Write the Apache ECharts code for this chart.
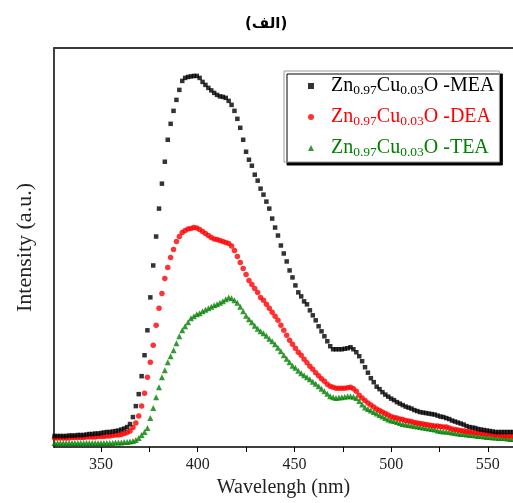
<!DOCTYPE html>
<html>
<head>
<meta charset="utf-8">
<script src="https://cdn.jsdelivr.net/npm/echarts@6/dist/echarts.min.js"></script>
<style>
html,body{margin:0;padding:0;background:#fff;}
#chart{width:513px;height:503px;}
</style>
</head>
<body>
<div id="chart"></div>
<script>
// Wavelength (nm)
const wavelengths = [326,327.5,329,330.5,332,333.5,335,336.5,338,339.5,341,342.5,344,345.5,347,348.5,350,351.5,353,354.5,356,357.5,359,360.5,362,363.5,365,366.5,368,369.5,371,372.5,374,375.5,377,378.5,380,381.5,383,384.5,386,387.5,389,390.5,392,393.5,395,396.5,398,399.5,401,402.5,404,405.5,407,408.5,410,411.5,413,414.5,416,417.5,419,420.5,422,423.5,425,426.5,428,429.5,431,432.5,434,435.5,437,438.5,440,441.5,443,444.5,446,447.5,449,450.5,452,453.5,455,456.5,458,459.5,461,462.5,464,465.5,467,468.5,470,471.5,473,474.5,476,477.5,479,480.5,482,483.5,485,486.5,488,489.5,491,492.5,494,495.5,497,498.5,500,501.5,503,504.5,506,507.5,509,510.5,512,513.5,515,516.5,518,519.5,521,522.5,524,525.5,527,528.5,530,531.5,533,534.5,536,537.5,539,540.5,542,543.5,545,546.5,548,549.5,551,552.5,554,555.5,557,558.5,560,561.5,563];

// Intensity (a.u.) – Zn0.97Cu0.03O -MEA
const meaValues = [11,11,11,11,11,11.5,11.5,11.5,12,12,12,12.5,13,13,13.5,13.5,14,14.5,15,15,15.5,16,16.5,17.5,18.5,20,23,30,41,53,71,92,117,150,182,211,239,264,286,308,324,337,348,358,367,370,371,371.5,372,372,370,366,363,360,357.5,355,353,351.5,351,350,347,343,337,329,320,308,296,288,282,273,267,259,253,246,239,229,220,212,202,194,186,177,170,162,155,151,146,143,137,132,127,121,116,111,106,101,98,98,98,98,98.5,99,100,98,95,91,86,80,74.5,69,65,60.5,58,55,52.5,50.5,48.5,47,45,43.5,42,40.5,39.5,38.5,37,36,35,34.5,34,33.5,33,32.5,31.5,30.5,30,29,28,26.5,25.5,24.5,23.5,22.5,21,20,19.5,19,18,17.5,17,16.5,16,15.5,15,15,15,15,15,15,15];

// Intensity (a.u.) – Zn0.97Cu0.03O -DEA
const deaValues = [9,9,9,9,9,9,9.5,9.5,9.5,9.5,9.5,10,10,10,10,10.5,10.5,10.5,11,11,11.5,12,12,12.5,13.5,14.5,16,19.5,24,31,41,54,70,85,102,122,139,154,169,180,190,198,206,211,215,217,218.5,219,220,219.5,218,216,214,212,210,208.5,208,207,206,205,204,201.5,197,191,185,179,173,167,163,159,155,150,147,143,139,135,131,127,122,117,112,107,103,99,95,92,88,84.5,81,78,74.5,71.5,68.5,66,63,61,60,59,59,59,59,59.5,60,58.5,56,52,49,46.5,44,42,40,38,36.5,35,33.5,32,30.5,29.5,29,28,27.5,26.5,26,25.5,24.5,24,23.5,23,22.5,22,21.5,21,21,20.5,20,20,19,18,17.5,17,16.5,16,15.5,15,15,14.5,14,14,13.5,13,13,12.5,12,12,11.5,11.5,11,11,11];

// Intensity (a.u.) – Zn0.97Cu0.03O -TEA
const teaValues = [4,4,4,4,4,4,4,4,4,4,4,4,4,4,4,4,4,4,4,4,4,4.5,4.5,4.5,5,5,5.5,6,7,9,12,15,19,29,39,50,60,70,77,85,91,97,104,111,117,121,125,129,131,133,134,136,137.5,139,140.5,142,143,144.5,146,148,150,149,147,144.5,140.5,136,131.5,128,125,121.5,118.5,116,114,111.5,108.5,106,103,99.5,96,92,88.5,85,81.5,79.5,76.5,74,72,70,68,65.5,63.5,61,58.5,56,53.5,51,50,49,49.5,50,50.5,51,51,50.5,49,46,42.5,39.5,38,36.5,35,33.5,32,30.5,29,27.5,26.5,26,25,24,23,22.5,22,21.5,21,20.5,20,19.5,19,18.5,18,17.5,16.5,16,15.5,15.5,15,14.5,14,13.5,13,13,12.5,12,12,11.5,11,11,10.5,10,10,9.5,9.5,9,9,9,8.5,8,8];

const seriesNames = ['MEA', 'DEA', 'TEA'];
const tickValues = [350, 375, 400, 425, 450, 475, 500, 525, 550];
const labelValues = [350, 400, 450, 500, 550];

const pairs = vals => wavelengths.map((w, i) => [w, vals[i]]);

const chart = echarts.init(document.getElementById('chart'), null, {renderer: 'canvas'});
const serif = 'Liberation Serif, Times New Roman, serif';
const styleKey = {MEA: 'k', DEA: 'r', TEA: 'g'};
const rich = {sp: {width: 12}};
[['k', '#000000'], ['r', '#ff0000'], ['g', '#008000']].forEach(([k, c]) => {
  rich[k + 'm'] = {fontFamily: serif, fontSize: 20, color: c, lineHeight: 22, verticalAlign: 'middle'};
  rich[k + 's'] = {fontFamily: serif, fontSize: 13.5, color: c, lineHeight: 12, verticalAlign: 'bottom'};
});

chart.setOption({
  animation: false,
  backgroundColor: '#ffffff',
  title: {
    text: '(الف)',
    left: 240,
    top: 12,
    textStyle: {fontFamily: 'DejaVu Sans', fontWeight: 'bold', fontSize: 15, color: '#000'}
  },
  grid: {left: 54, top: 48, right: 0, bottom: 55, containLabel: false},
  legend: {
    orient: 'vertical',
    left: 284,
    top: 71,
    padding: [5, 5, 3, 24],
    itemGap: 10,
    itemWidth: 6,
    itemHeight: 6,
    backgroundColor: '#ffffff',
    borderColor: '#9a9a9a',
    borderWidth: 1,
    shadowColor: '#000',
    shadowOffsetX: 3,
    shadowOffsetY: 3,
    shadowBlur: 0,
    data: seriesNames,
    formatter: name => {
      const k = styleKey[name];
      return `{sp|}{${k}m|Zn}{${k}s|0.97}{${k}m|Cu}{${k}s|0.03}{${k}m|O -${name}}`;
    },
    textStyle: {rich: rich}
  },
  xAxis: [{
    type: 'value',
    min: 325.7,
    max: 563,
    name: 'Wavelengh (nm)',
    nameLocation: 'middle',
    nameGap: 31,
    nameTextStyle: {fontFamily: serif, fontSize: 20, color: '#222'},
    axisLine: {show: true, onZero: false, lineStyle: {color: '#000', width: 1.5}},
    axisTick: {show: true, inside: false, length: 5, customValues: tickValues, lineStyle: {color: '#000', width: 1}},
    axisLabel: {show: true, customValues: labelValues, margin: 10, fontFamily: serif, fontSize: 16, color: '#222'},
    splitLine: {show: false}
  }, {
    type: 'value',
    position: 'top',
    min: 325.7,
    max: 563,
    axisLine: {show: true, onZero: false, lineStyle: {color: '#3a3a3a', width: 2}},
    axisTick: {show: false},
    axisLabel: {show: false},
    splitLine: {show: false}
  }],
  yAxis: {
    type: 'value',
    min: 0,
    max: 400,
    name: 'Intensity (a.u.)',
    nameLocation: 'middle',
    nameGap: 18,
    nameTextStyle: {fontFamily: serif, fontSize: 22, color: '#222'},
    axisLine: {show: true, onZero: false, lineStyle: {color: '#000', width: 1.5}},
    axisTick: {show: false},
    axisLabel: {show: false},
    splitLine: {show: false}
  },
  series: [
    {name: 'TEA', type: 'scatter', symbol: 'triangle', symbolSize: 6, itemStyle: {color: '#008000'}, data: pairs(teaValues), z: 2},
    {name: 'DEA', type: 'scatter', symbol: 'circle', symbolSize: 5.5, itemStyle: {color: '#ff0000'}, data: pairs(deaValues), z: 3},
    {name: 'MEA', type: 'scatter', symbol: 'rect', symbolSize: 4.5, itemStyle: {color: '#000000'}, data: pairs(meaValues), z: 4}
  ]
});
</script>
</body>
</html>
